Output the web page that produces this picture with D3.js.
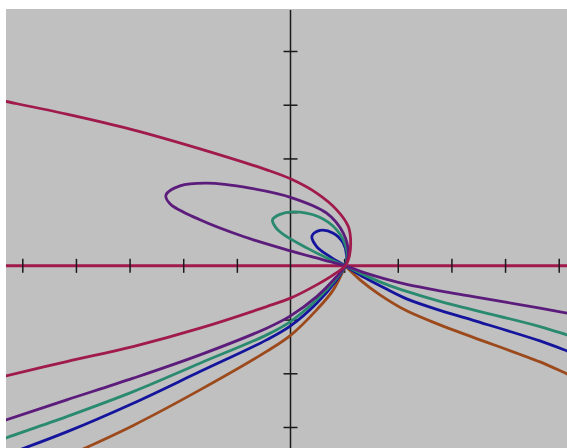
<!DOCTYPE html>
<html><head><meta charset="utf-8">
<script src="https://cdn.jsdelivr.net/npm/d3@7"></script>
<style>html,body{margin:0;padding:0;background:#fff;}svg{display:block;}</style>
</head><body>
<svg id="chart" width="567" height="448"></svg>
<script>
// Tick positions (data units)
const xTicks = [-5,-4,-3,-2,-1,1,2,3,4,5];
const yTicks = [-3,-2,-1,1,2,3,4];

// Horizontal crimson line (y = 0)
const axisLine = [[-5.4,0],[5.3,0]];

// Curves: [x, y] in data units
const crimson = [[-5.40,3.08],[-5.304,3.060],[-4.172,2.825],[-2.936,2.533],[-1.687,2.179],[-0.444,1.788],[0,1.62],[0.488,1.354],[0.861,1.043],[1.078,0.732],[1.122,0.423],[1.078,0.112],[1.02,0],[0.798,-0.168],[0.488,-0.354],[0,-0.601],[-0.444,-0.758],[-1.687,-1.160],[-2.936,-1.503],[-4.172,-1.782],[-5.304,-2.048],[-5.40,-2.07]];

const purple = [[-5.40,-2.90],[-5.304,-2.868],[-4.172,-2.495],[-2.931,-2.091],[-1.687,-1.657],[-0.444,-1.160],[0,-0.931],[0.488,-0.572],[0.861,-0.199],[1.02,0],[1.078,0.236],[0.984,0.609],[0.675,0.981],[0,1.276],[-0.755,1.447],[-1.562,1.540],[-2.06,1.49],[-2.321,1.322],[-2.246,1.155],[-1.687,0.857],[-0.880,0.546],[0,0.279],[0.611,0.112],[1.02,0],[1.389,-0.130],[1.762,-0.242],[2.166,-0.344],[2.787,-0.465],[3.408,-0.572],[4.651,-0.788],[5.155,-0.881],[5.30,-0.905]];

const green = [[-5.40,-3.24],[-5.304,-3.203],[-4.172,-2.806],[-2.931,-2.341],[-1.687,-1.812],[-0.444,-1.285],[0,-1.037],[0.488,-0.633],[0.861,-0.229],[1.02,0],[1.048,0.298],[0.861,0.670],[0.513,0.918],[0.052,1.006],[-0.196,0.959],[-0.336,0.857],[-0.27,0.708],[-0.134,0.587],[0.302,0.335],[0.736,0.121],[1.02,0],[1.389,-0.177],[1.762,-0.335],[2.166,-0.475],[2.787,-0.661],[3.408,-0.819],[4.651,-1.130],[5.155,-1.285],[5.30,-1.33]];

const blue = [[-5.42,-3.56],[-4.172,-3.091],[-2.931,-2.557],[-1.687,-1.968],[-0.444,-1.378],[0,-1.117],[0.488,-0.695],[0.861,-0.261],[1.02,0],[1.048,0.173],[0.984,0.423],[0.798,0.609],[0.550,0.661],[0.401,0.559],[0.488,0.359],[0.736,0.173],[1.02,0],[1.389,-0.223],[1.762,-0.419],[2.166,-0.615],[2.787,-0.829],[3.408,-1.015],[4.651,-1.397],[5.155,-1.583],[5.30,-1.64]];

const brownLeft = [[-4.111,-3.52],[-2.931,-2.970],[-1.687,-2.309],[-0.444,-1.592],[0,-1.294],[0.488,-0.819],[0.798,-0.447],[1.02,0]];
const brownRight = [[1.02,0],[1.296,-0.261],[1.668,-0.540],[2.166,-0.838],[2.787,-1.099],[3.408,-1.331],[4.651,-1.788],[5.155,-2.011],[5.30,-2.07]];

const svg = d3.select("#chart");
const W = 567, H = 448;
const plot = {x0: 6, y0: 9, x1: 567, y1: 448};

const x = d3.scaleLinear().domain([-5, 5]).range([22.3, 558.7]);
const y = d3.scaleLinear().domain([-3, 4]).range([427, 51]);

svg.append("rect").attr("x", plot.x0).attr("y", plot.y0)
  .attr("width", plot.x1 - plot.x0).attr("height", plot.y1 - plot.y0)
  .attr("fill", "#c0c0c0");

svg.append("clipPath").attr("id", "clip").append("rect")
  .attr("x", plot.x0).attr("y", plot.y0)
  .attr("width", plot.x1 - plot.x0).attr("height", plot.y1 - plot.y0);

const g = svg.append("g").attr("clip-path", "url(#clip)");

const line = d3.line().x(d => x(d[0])).y(d => y(d[1])).curve(d3.curveCatmullRom.alpha(0.5));
const straight = d3.line().x(d => x(d[0])).y(d => y(d[1]));

// crimson horizontal line
g.append("path").attr("d", straight(axisLine)).attr("fill", "none")
  .attr("stroke", "#a01a4c").attr("stroke-width", 3);

// vertical axis line
g.append("line").attr("x1", x(0)).attr("x2", x(0)).attr("y1", 10).attr("y2", H)
  .attr("stroke", "#1a1a1a").attr("stroke-width", 1.5);

// ticks via d3 axes (both sides of the axis lines)
function styleAxis(sel) {
  sel.select(".domain").remove();
  sel.selectAll(".tick line").attr("stroke", "#1a1a1a").attr("stroke-width", 1.5);
  sel.selectAll(".tick text").remove();
}
g.append("g").attr("transform", `translate(0,${y(0)})`)
  .call(d3.axisBottom(x).tickValues(xTicks).tickSize(7).tickFormat("")).call(styleAxis);
g.append("g").attr("transform", `translate(0,${y(0)})`)
  .call(d3.axisTop(x).tickValues(xTicks).tickSize(7).tickFormat("")).call(styleAxis);
g.append("g").attr("transform", `translate(${x(0)},0)`)
  .call(d3.axisLeft(y).tickValues(yTicks).tickSize(7).tickFormat("")).call(styleAxis);
g.append("g").attr("transform", `translate(${x(0)},0)`)
  .call(d3.axisRight(y).tickValues(yTicks).tickSize(7).tickFormat("")).call(styleAxis);

const curves = [
  {d: brownLeft, c: "#9c4a1c"},
  {d: brownRight, c: "#9c4a1c"},
  {d: blue, c: "#14149c"},
  {d: green, c: "#2a8a70"},
  {d: purple, c: "#5c1c7c"},
  {d: crimson, c: "#a01a4c"}
];
curves.forEach(k => {
  g.append("path").attr("d", line(k.d)).attr("fill", "none")
    .attr("stroke", k.c).attr("stroke-width", 2.8)
    .attr("stroke-linejoin", "round").attr("stroke-linecap", "round");
});
</script>
</body></html>
